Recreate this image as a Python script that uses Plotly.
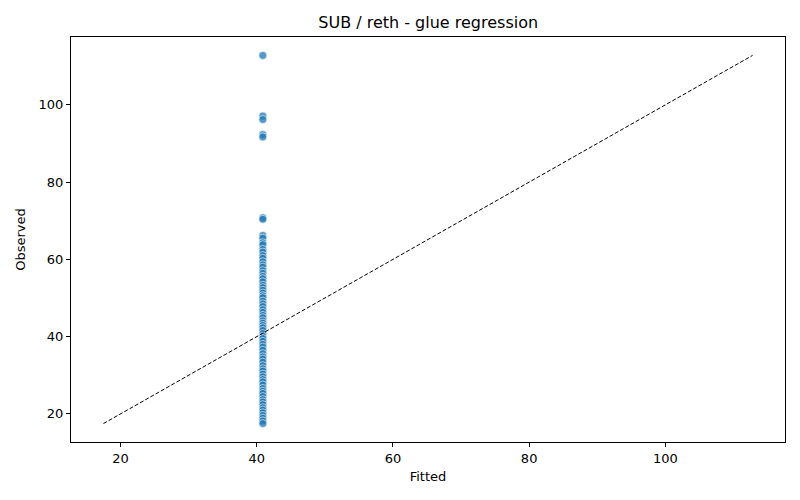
import plotly.graph_objects as go

# observed values, all sharing one fitted value (intercept-only model)
fitted_value = 40.9
observed = [112.8, 97.1, 96.2, 92.3, 91.7, 70.8, 70.4, 66.2, 65.5, 64.3,
            63.8, 62.6, 61.9, 61.0, 60.3, 59.4, 58.6, 58.0, 57.1, 56.4,
            55.6, 55.0, 54.2, 53.3, 52.7, 52.0, 51.3, 50.6, 50.1, 49.2,
            48.5, 47.8, 47.0, 46.3, 45.5, 44.9, 44.1, 43.5, 42.9, 42.3,
            41.6, 40.8, 40.1, 39.5, 38.8, 38.0, 37.3, 36.5, 35.6, 34.8,
            34.2, 33.4, 32.5, 31.7, 31.1, 30.3, 29.6, 28.9, 28.3, 27.5,
            26.6, 25.9, 25.3, 24.5, 23.7, 23.1, 22.4, 21.6, 21.0, 20.3,
            19.6, 18.9, 18.2, 17.5]
fitted = [fitted_value] * len(observed)

lo = min(observed + fitted)
hi = max(observed + fitted)
pad = (hi - lo) * 0.05

fig = go.Figure()
fig.add_trace(go.Scatter(
    x=fitted, y=observed, mode="markers",
    marker=dict(size=8, color="rgba(31,119,180,0.75)",
                line=dict(color="white", width=0.6)),
    showlegend=False))
# identity line
fig.add_trace(go.Scatter(
    x=[lo, hi], y=[lo, hi], mode="lines",
    line=dict(color="black", width=1, dash="4px,2px"),
    showlegend=False))

axis_style = dict(showline=True, linecolor="black", linewidth=1, mirror=True,
                  ticks="outside", ticklen=4, tickcolor="black",
                  showgrid=False, zeroline=False, automargin=False,
                  tickfont=dict(size=13, color="black"),
                  range=[lo - pad, hi + pad])

# page body has an 8px margin, so the figure is 784x484
fig.update_layout(
    width=784, height=484,
    margin=dict(l=63, r=7, t=29, b=50),
    paper_bgcolor="white", plot_bgcolor="white",
    font=dict(family="DejaVu Sans", color="black"),
    title=dict(text="SUB / reth - glue regression", x=0.536, xanchor="center",
               y=0.971, yanchor="middle", font=dict(size=16)),
    xaxis=dict(title=dict(text="Fitted", font=dict(size=13), standoff=7),
               tickvals=[20, 40, 60, 80, 100], **axis_style),
    yaxis=dict(title=dict(text="Observed", font=dict(size=13), standoff=10),
               tickvals=[20, 40, 60, 80, 100], **axis_style),
)

fig.write_html("out.html")
